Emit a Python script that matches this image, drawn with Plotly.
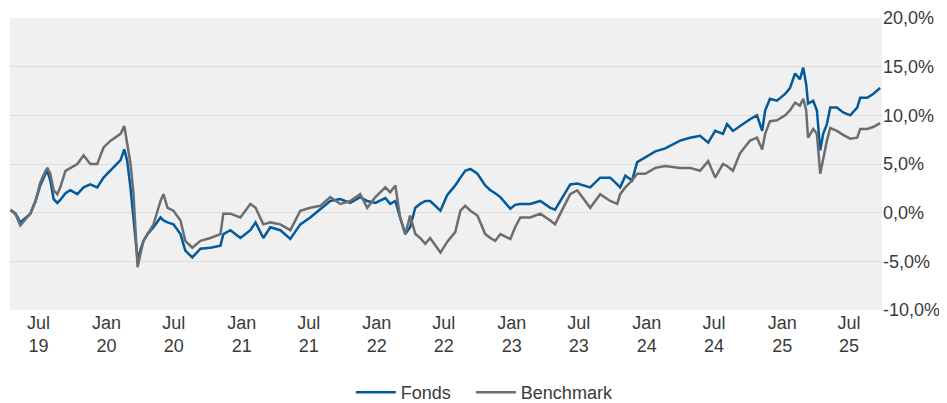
import plotly.graph_objects as go

dates = [
    "2019-04-16", "2019-04-30", "2019-05-13", "2019-05-27", "2019-06-09", "2019-06-23",
    "2019-07-06", "2019-07-20", "2019-07-25", "2019-08-02", "2019-08-11", "2019-08-21",
    "2019-08-29", "2019-09-12", "2019-09-25", "2019-10-14", "2019-10-31", "2019-11-18",
    "2019-12-07", "2019-12-24", "2020-01-12", "2020-01-25", "2020-02-08", "2020-02-18",
    "2020-02-26", "2020-03-06", "2020-03-14", "2020-03-19", "2020-03-25", "2020-04-02",
    "2020-04-10", "2020-04-21", "2020-05-07", "2020-05-26", "2020-06-03", "2020-06-14",
    "2020-06-30", "2020-07-19", "2020-08-01", "2020-08-20", "2020-09-11", "2020-10-08",
    "2020-11-04", "2020-11-12", "2020-12-01", "2020-12-28", "2021-01-24", "2021-02-07",
    "2021-02-28", "2021-03-19", "2021-04-15", "2021-05-12", "2021-06-08", "2021-07-05",
    "2021-08-01", "2021-08-28", "2021-09-24", "2021-10-21", "2021-11-17", "2021-12-06",
    "2021-12-28", "2022-01-24", "2022-02-06", "2022-02-20", "2022-03-05", "2022-03-19",
    "2022-04-01", "2022-04-15", "2022-04-28", "2022-05-12", "2022-05-25", "2022-06-22",
    "2022-07-10", "2022-08-01", "2022-08-15", "2022-08-28", "2022-09-11", "2022-09-30",
    "2022-10-21", "2022-11-04", "2022-11-17", "2022-12-01", "2022-12-28", "2023-01-10",
    "2023-01-24", "2023-02-20", "2023-03-19", "2023-04-15", "2023-04-28", "2023-05-12",
    "2023-06-08", "2023-06-27", "2023-07-18", "2023-08-01", "2023-08-28", "2023-09-24",
    "2023-10-13", "2023-10-21", "2023-11-04", "2023-11-22", "2023-12-06", "2023-12-28",
    "2024-01-24", "2024-02-20", "2024-03-31", "2024-04-27", "2024-05-24", "2024-06-15",
    "2024-07-04", "2024-07-25", "2024-08-05", "2024-08-21", "2024-09-09", "2024-10-06",
    "2024-10-25", "2024-11-08", "2024-11-16", "2024-11-29", "2024-12-18", "2025-01-09",
    "2025-01-22", "2025-02-05", "2025-02-18", "2025-02-27", "2025-03-07", "2025-03-12",
    "2025-03-26", "2025-04-05", "2025-04-14", "2025-04-22", "2025-05-02", "2025-05-11",
    "2025-05-29", "2025-06-15", "2025-07-04", "2025-07-23", "2025-07-31", "2025-08-19",
    "2025-09-04", "2025-09-23",
]

fonds = [
    0.3, -0.1, -1.0, -0.5, -0.1, 1.2,
    2.8, 4.0, 4.3, 3.3, 1.4, 1.0,
    1.3, 2.0, 2.3, 1.9, 2.6, 2.9,
    2.6, 3.6, 4.3, 4.8, 5.4, 6.5,
    5.3, 2.5, -0.5, -2.2, -4.9, -3.8,
    -2.9, -2.2, -1.5, -0.5, -0.8, -1.0,
    -1.2, -2.2, -3.9, -4.6, -3.7, -3.6,
    -3.4, -2.2, -1.8, -2.6, -1.8, -1.0,
    -2.6, -1.5, -1.8, -2.7, -1.2, -0.5,
    0.4, 1.2, 1.4, 1.0, 1.6, 1.2,
    1.0, 1.5, 0.9, 1.2, -0.5, -2.2,
    -1.5, 0.5, 0.9, 1.2, 1.2, 0.2,
    1.8, 2.8, 3.6, 4.3, 4.5, 4.0,
    2.8, 2.3, 2.0, 1.6, 0.4, 0.8,
    0.9, 0.9, 1.2, 0.5, 0.3, 1.2,
    2.9, 3.0, 2.8, 2.6, 3.6, 3.6,
    2.9, 2.6, 3.8, 3.3, 5.2, 5.7,
    6.3, 6.6, 7.4, 7.7, 7.9, 7.2,
    8.4, 8.1, 9.1, 8.4, 8.9, 9.6,
    10.0, 8.4, 10.5, 11.7, 11.5, 12.2,
    12.8, 14.3, 13.7, 14.9, 13.2, 11.2,
    11.5, 10.5, 6.4, 8.1, 9.1, 10.8,
    10.8, 10.3, 10.0, 10.8, 11.8, 11.8,
    12.2, 12.8,
]

benchmark = [
    0.3, -0.2, -1.3, -0.7, -0.1, 1.2,
    3.1, 4.3, 4.6, 4.0, 2.3, 1.9,
    2.6, 4.3, 4.6, 5.0, 5.9, 5.0,
    5.0, 6.7, 7.4, 7.7, 8.1, 8.9,
    7.1, 5.0, 1.9, -1.5, -5.6, -4.2,
    -2.9, -2.2, -1.2, 1.2, 1.9, 0.5,
    0.2, -0.8, -2.9, -3.6, -2.9, -2.6,
    -2.2, -0.1, -0.1, -0.5, 0.9, 0.5,
    -1.2, -1.0, -1.2, -1.8, 0.2, 0.5,
    0.7, 1.6, 0.9, 1.2, 1.9, 0.5,
    1.6, 2.6, 2.1, 2.8, -0.5, -2.2,
    -0.3, -2.2, -2.6, -3.2, -2.6, -4.1,
    -3.0, -2.0, 0.2, 0.7, 0.2, -0.3,
    -2.2, -2.6, -2.9, -2.2, -2.7, -1.5,
    -0.5, -0.5, -0.1, -0.8, -1.2, -0.1,
    1.9, 2.3, 1.2, 0.5, 1.9, 1.2,
    0.9, 1.9, 2.6, 3.3, 4.0, 4.0,
    4.6, 4.8, 4.6, 4.6, 4.3, 5.3,
    3.6, 5.0, 4.8, 4.3, 6.1, 7.4,
    7.7, 6.5, 8.1, 9.4, 9.5, 10.0,
    10.5, 11.3, 11.0, 11.7, 10.5, 7.7,
    8.6, 8.1, 4.0, 5.6, 7.4, 8.7,
    8.4, 8.0, 7.6, 7.7, 8.6, 8.6,
    8.8, 9.2,
]

series_names = ["Fonds", "Benchmark"]

tick_dates = [
    "2019-07-01", "2020-01-01", "2020-07-01", "2021-01-01", "2021-07-01",
    "2022-01-01", "2022-07-01", "2023-01-01", "2023-07-01", "2024-01-01",
    "2024-07-01", "2025-01-01", "2025-07-01",
]
tick_labels = [
    "Jul<br>19", "Jan<br>20", "Jul<br>20", "Jan<br>21", "Jul<br>21",
    "Jan<br>22", "Jul<br>22", "Jan<br>23", "Jul<br>23", "Jan<br>24",
    "Jul<br>24", "Jan<br>25", "Jul<br>25",
]
y_ticks = [-10, -5, 0, 5, 10, 15, 20]
y_labels = ["-10,0%", "-5,0%", "0,0%", "5,0%", "10,0%", "15,0%", "20,0%"]

FONT = "Liberation Sans, Arial, sans-serif"
TXT = "#3a3a3a"
PAD = "\u00a0\u00a0\u00a0"

fig = go.Figure()
fig.add_trace(go.Scatter(x=dates, y=fonds, name=series_names[0] + PAD, mode="lines",
                         line=dict(color="#005a9b", width=2.5)))
fig.add_trace(go.Scatter(x=dates, y=benchmark, name=series_names[1], mode="lines",
                         line=dict(color="#6b6d70", width=2.5)))

fig.update_layout(
    width=947, height=403,
    margin=dict(l=2, r=73, t=10, b=101, autoexpand=False),
    paper_bgcolor="white",
    plot_bgcolor="#f0f0f0",
    font=dict(family=FONT, size=18, color=TXT),
    showlegend=True,
    legend=dict(orientation="h", xref="container", x=0.362, xanchor="left",
                yref="container", y=-0.005, yanchor="bottom",
                itemwidth=40,
                font=dict(size=18, color=TXT)),
    xaxis=dict(
        range=["2019-04-15", "2025-09-28"],
        tickvals=tick_dates, ticktext=tick_labels,
        showgrid=False, zeroline=False, showline=False, ticks="",
        tickfont=dict(size=18, color=TXT), automargin=False,
    ),
    yaxis=dict(
        side="right", range=[-10, 20], tickvals=y_ticks, ticktext=y_labels,
        showgrid=True, gridcolor="#dddddd", gridwidth=1,
        zeroline=False, showline=False, ticks="",
        tickfont=dict(size=18, color=TXT), automargin=False,
    ),
)

fig.write_html("out.html")
